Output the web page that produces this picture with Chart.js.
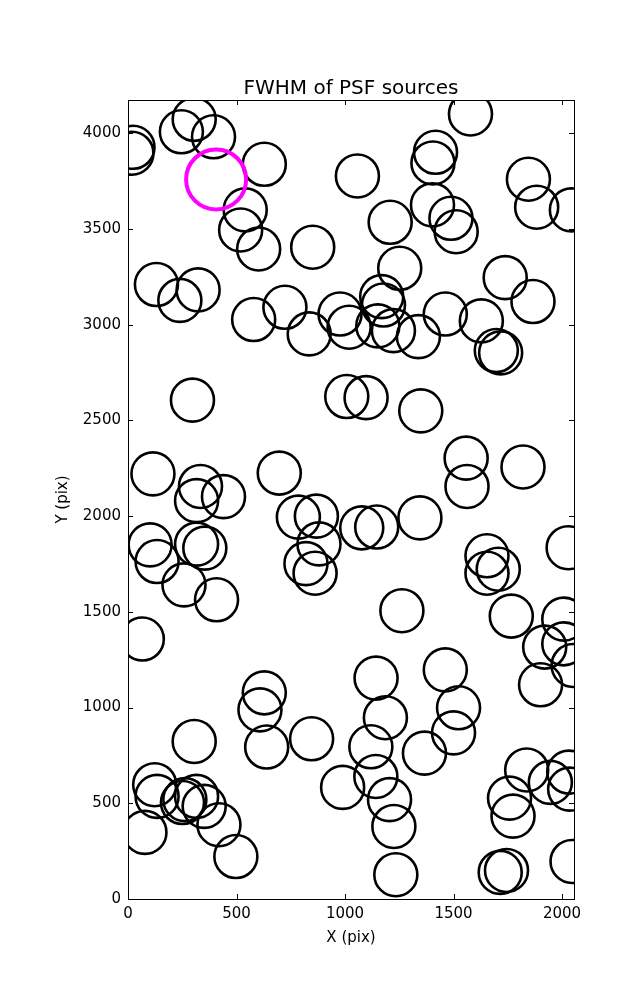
<!DOCTYPE html>
<html>
<head>
<meta charset="utf-8">
<script src="https://cdn.jsdelivr.net/npm/chart.js@4/dist/chart.umd.min.js"></script>
<style>
  html, body { margin: 0; padding: 0; background: #fff; }
  #wrap { width: 637px; height: 1000px; }
</style>
</head>
<body>
<div id="wrap"><canvas id="c" width="637" height="1000"></canvas></div>
<script>
// ---- data ----
const chartTitle = "FWHM of PSF sources";
const xLabel = "X (pix)";
const yLabel = "Y (pix)";
const xTicks = [0, 500, 1000, 1500, 2000];
const yTicks = [0, 500, 1000, 1500, 2000, 2500, 3000, 3500, 4000];
const xRange = [0, 2055];
const yRange = [0, 4174];

// PSF source positions (black circles)
const srcX = [23, 18, 246, 305, 394, 628, 540, 519, 602, 851,
  1057, 1208, 1252, 1578, 1417, 1405, 1403, 1488, 1512, 1845,
  1883, 2043, 1738, 1866, 131, 323, 239, 579, 723, 835,
  977, 1019, 1169, 1177, 1151, 1223, 1338, 1462, 1628, 1697,
  1717, 297, 1008, 1097, 1349, 1558, 1562, 1820, 115, 334,
  316, 440, 697, 785, 868, 880, 820, 862, 1077, 1146,
  1345, 102, 134, 316, 354, 258, 408, 66, 1262, 1654,
  1654, 1706, 1766, 2028, 2008, 1920, 2008, 2051, 1901, 1143,
  1462, 628, 608, 639, 846, 305, 1186, 1119, 1523, 1500,
  1366, 989, 1142, 1205, 1225, 1234, 123, 134, 251, 262,
  316, 351, 419, 78, 497, 1758, 1774, 1837, 1946, 2031,
  2035, 1715, 1744, 2046];
const srcY = [3927, 3896, 4008, 4073, 3982, 3838, 3600, 3495, 3396, 3405,
  3777, 3535, 3295, 4101, 3901, 3845, 3626, 3556, 3486, 3760,
  3614, 3600, 3246, 3121, 3210, 3182, 3127, 3027, 3091, 2952,
  3056, 2987, 3147, 3103, 2994, 2969, 2938, 3056, 3020, 2865,
  2853, 2606, 2625, 2619, 2550, 2303, 2155, 2257, 2221, 2155,
  2081, 2102, 2225, 1995, 2000, 1855, 1752, 1702, 1939, 1943,
  1991, 1850, 1763, 1854, 1833, 1641, 1563, 1358, 1506, 1793,
  1702, 1723, 1478, 1835, 1462, 1316, 1333, 1220, 1119, 1154,
  1197, 1077, 988, 794, 837, 823, 947, 795, 999, 868,
  762, 583, 640, 519, 379, 127, 597, 536, 504, 519,
  536, 484, 388, 348, 222, 527, 433, 674, 609, 663,
  574, 139, 149, 196];

// highlighted source (magenta circle)
const hiX = [406];
const hiY = [3759];

// ---- build chart ----
const toPoints = (xs, ys) => xs.map((x, i) => ({ x: x, y: ys[i] }));

const frameTicks = {
  id: 'frameTicks',
  afterLayout(chart) {
    // centre the title over the plotting area, as matplotlib does
    const t = chart.titleBlock, a = chart.chartArea;
    if (t && a) { t.left = a.left; t.right = a.right; t.width = a.right - a.left; }
  },
  afterDatasetsDraw(chart) {
    const { ctx, chartArea: a, scales } = chart;
    const L = 5;
    ctx.save();
    ctx.strokeStyle = '#000';
    ctx.lineWidth = 1;
    ctx.beginPath();
    scales.x.ticks.forEach(t => {
      const px = Math.round(scales.x.getPixelForValue(t.value)) + 0.5;
      ctx.moveTo(px, a.bottom); ctx.lineTo(px, a.bottom - L);
      ctx.moveTo(px, a.top); ctx.lineTo(px, a.top + L);
    });
    scales.y.ticks.forEach(t => {
      const py = Math.round(scales.y.getPixelForValue(t.value)) + 0.5;
      ctx.moveTo(a.left, py); ctx.lineTo(a.left + L, py);
      ctx.moveTo(a.right, py); ctx.lineTo(a.right - L, py);
    });
    ctx.stroke();
    ctx.strokeRect(Math.round(a.left) + 0.5, Math.round(a.top) + 0.5,
                   Math.round(a.right - a.left), Math.round(a.bottom - a.top));
    ctx.restore();
  }
};

Chart.defaults.font.family = "'DejaVu Sans', sans-serif";
Chart.defaults.color = '#000';

new Chart(document.getElementById('c'), {
  type: 'scatter',
  data: {
    datasets: [
      {
        label: 'highlight',
        data: toPoints(hiX, hiY),
        pointStyle: 'circle',
        pointRadius: 30,
        pointBorderWidth: 4,
        pointBorderColor: '#ff00ff',
        pointBackgroundColor: 'rgba(0,0,0,0)',
        clip: 0
      },
      {
        label: 'sources',
        data: toPoints(srcX, srcY),
        pointStyle: 'circle',
        pointRadius: 21.5,
        pointBorderWidth: 2.6,
        pointBorderColor: '#000',
        pointBackgroundColor: 'rgba(0,0,0,0)',
        clip: 0
      }
    ]
  },
  options: {
    responsive: false,
    animation: false,
    devicePixelRatio: 1,
    layout: { padding: { top: 0, right: 63, bottom: 0, left: 0 } },
    plugins: {
      legend: { display: false },
      tooltip: { enabled: false },
      title: {
        display: true,
        text: chartTitle,
        font: { size: 20, weight: 'normal', lineHeight: 1 },
        color: '#000',
        padding: { top: 79, bottom: 1 }
      }
    },
    events: [],
    scales: {
      x: {
        type: 'linear',
        min: xRange[0],
        max: xRange[1],
        afterBuildTicks: s => { s.ticks = xTicks.map(v => ({ value: v })); },
        afterFit: s => { s.height = 101; },
        grid: { display: false, drawTicks: false },
        border: { display: false },
        ticks: { font: { size: 15 }, padding: 6, maxRotation: 0, autoSkip: false, includeBounds: false,
                 callback: v => String(v) },
        title: { display: true, text: xLabel, font: { size: 15 }, padding: { top: 0, bottom: 53 } }
      },
      y: {
        type: 'linear',
        min: yRange[0],
        max: yRange[1],
        afterBuildTicks: s => { s.ticks = yTicks.map(v => ({ value: v })); },
        afterFit: s => { s.width = 128; },
        grid: { display: false, drawTicks: false },
        border: { display: false },
        ticks: { font: { size: 15 }, padding: 7, autoSkip: false, includeBounds: false,
                 callback: v => String(v) },
        title: { display: true, text: yLabel, font: { size: 15 }, padding: { top: 54, bottom: 0 } }
      }
    }
  },
  plugins: [frameTicks]
});
</script>
</body>
</html>
